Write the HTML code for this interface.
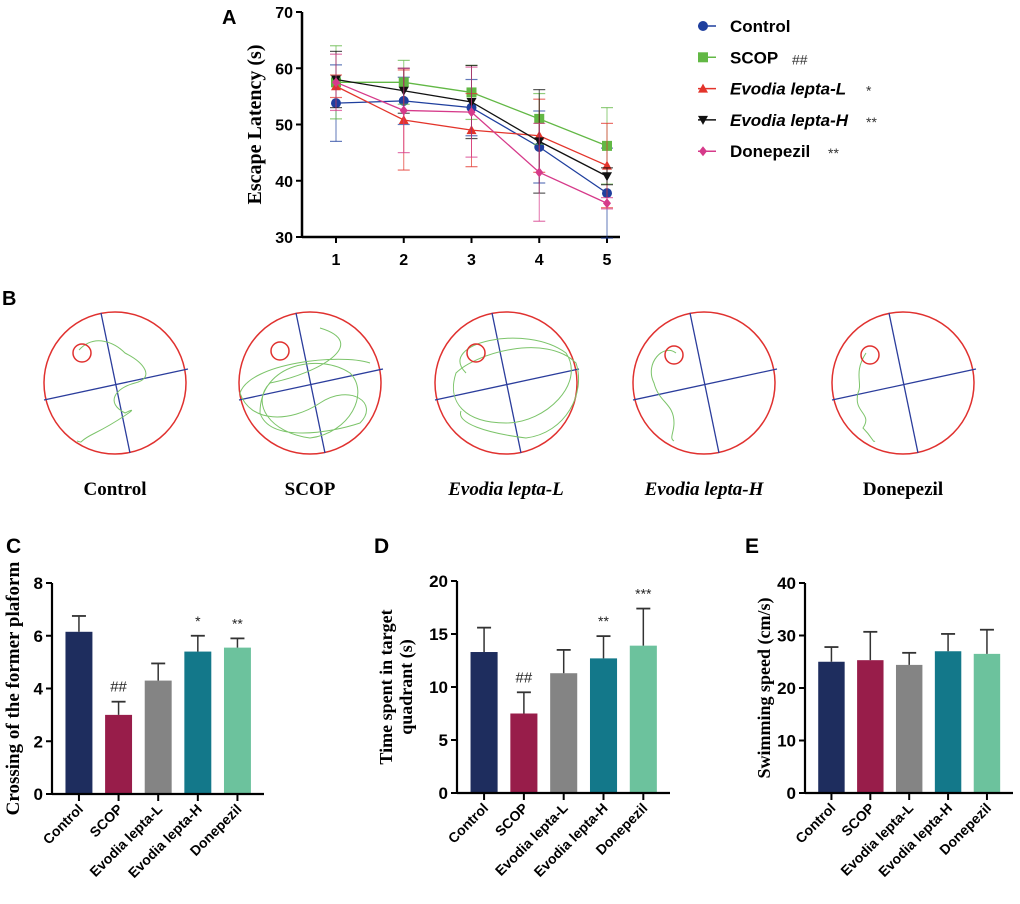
<!DOCTYPE html>
<html><head><meta charset="utf-8"><style>
body{margin:0;background:#fff;}
svg{display:block;font-family:"Liberation Sans",sans-serif;}
.serif{font-family:"Liberation Serif",serif;}
</style></head><body>
<svg id="fig" width="1020" height="904" viewBox="0 0 1020 904" xmlns="http://www.w3.org/2000/svg">
<g id="panelA"></g>
<g id="panelB"></g>
<g id="panelC"></g>
<g id="panelD"></g>
<g id="panelE"></g>
</svg>
<script>
const days = [1,2,3,4,5];
const yTicksA = [30,40,50,60,70];
const seriesNames = ["Control","SCOP","Evodia lepta-L","Evodia lepta-H","Donepezil"];
const controlA = [53.8,54.2,53.0,46.0,37.8];
const scopA = [57.5,57.5,55.7,51.0,46.2];
const lowA = [56.8,50.8,49.0,48.0,42.7];
const highA = [58.0,56.0,54.0,47.0,40.8];
const donepA = [57.5,52.5,52.2,41.5,36.0];
const controlErr = [6.8,4.2,5.0,6.4,8.0];
const scopErr = [6.5,3.9,4.8,4.5,6.8];
const lowErr = [2.0,8.9,6.5,6.5,7.5];
const highErr = [5.0,4.0,6.5,9.2,1.5];
const donepErr = [5.0,7.5,8.0,8.7,1.0];
const groups = ["Control","SCOP","Evodia lepta-L","Evodia lepta-H","Donepezil"];
const crossVals = [6.15,3.0,4.3,5.4,5.55];
const crossErr = [0.6,0.5,0.65,0.6,0.35];
const crossMarks = ["","##","","*","**"];
const crossTicks = [0,2,4,6,8];
const timeVals = [13.3,7.5,11.3,12.7,13.9];
const timeErr = [2.3,2.0,2.2,2.1,3.5];
const timeMarks = ["","##","","**","***"];
const timeTicks = [0,5,10,15,20];
const speedVals = [25.0,25.3,24.4,27.0,26.5];
const speedErr = [2.8,5.4,2.3,3.3,4.6];
const speedMarks = ["","","","",""];
const speedTicks = [0,10,20,30,40];

const NS="http://www.w3.org/2000/svg";
function mk(parent,tag,attrs,text){const e=document.createElementNS(NS,tag);for(const k in attrs)e.setAttribute(k,attrs[k]);if(text!==undefined)e.textContent=text;parent.appendChild(e);return e;}

/* Panel A */
const A=document.getElementById('panelA');
const ax0=302, ax1=620, ay0=237, ay1=12;
const xA=d=>336+(d-1)*(607-336)/4;
const yA=v=>ay0-(v-30)*(ay0-ay1)/40;
let t=mk(A,'text',{x:222,y:24,'font-size':20,'font-weight':'bold'},'A');

let l=mk(A,'line',{x1:ax0,y1:ay1,x2:ax0,y2:ay0,stroke:'#000','stroke-width':2.5});

l=mk(A,'line',{x1:ax0,y1:ay0,x2:ax1,y2:ay0,stroke:'#000','stroke-width':2.5});

yTicksA.forEach(v=>{mk(A,'line',{x1:ax0-6,y1:yA(v),x2:ax0,y2:yA(v),stroke:'#000','stroke-width':2});
 const tt=mk(A,'text',{x:ax0-9,y:yA(v)+6,'font-size':16,'font-weight':'bold','text-anchor':'end'},v);
 });
days.forEach(d=>{mk(A,'line',{x1:xA(d),y1:ay0,x2:xA(d),y2:ay0+6,stroke:'#000','stroke-width':2});
 const tt=mk(A,'text',{x:xA(d),y:ay0+28,'font-size':16,'font-weight':'bold','text-anchor':'middle'},d);
 });
t=mk(A,'text',{x:0,y:0,'font-size':20,'font-weight':'bold','text-anchor':'middle',class:'serif',transform:`translate(261,${(ay0+ay1)/2}) rotate(-90)`},'Escape Latency (s)');

const seriesVals=[controlA,scopA,lowA,highA,donepA];
const seriesErr=[controlErr,scopErr,lowErr,highErr,donepErr];
const colors=['#1f3f9e','#62b845','#e3342b','#111111','#d63a8a'];
const shapes=['circle','square','tri','itri','diamond'];
function marker(g,shape,x,y,c,s){
 if(shape==='circle')return mk(g,'circle',{cx:x,cy:y,r:s,fill:c});
 if(shape==='square')return mk(g,'rect',{x:x-s,y:y-s,width:2*s,height:2*s,fill:c});
 if(shape==='tri')return mk(g,'polygon',{points:`${x},${y-s} ${x-s},${y+s*0.8} ${x+s},${y+s*0.8}`,fill:c});
 if(shape==='itri')return mk(g,'polygon',{points:`${x},${y+s} ${x-s},${y-s*0.8} ${x+s},${y-s*0.8}`,fill:c});
 return mk(g,'polygon',{points:`${x},${y-s} ${x+s*0.8},${y} ${x},${y+s} ${x-s*0.8},${y}`,fill:c});
}
seriesVals.forEach((vals,i)=>{
 const g=mk(A,'g',{});
 
 
 vals.forEach((v,j)=>{const x=xA(days[j]);
  mk(g,'line',{x1:x,y1:yA(v-seriesErr[i][j]),x2:x,y2:yA(v+seriesErr[i][j]),stroke:colors[i],'stroke-width':1,opacity:0.7});
  mk(g,'line',{x1:x-6,y1:yA(v+seriesErr[i][j]),x2:x+6,y2:yA(v+seriesErr[i][j]),stroke:colors[i],'stroke-width':1.2,opacity:0.7});
  mk(g,'line',{x1:x-6,y1:yA(v-seriesErr[i][j]),x2:x+6,y2:yA(v-seriesErr[i][j]),stroke:colors[i],'stroke-width':1.2,opacity:0.7});});
 mk(g,'polyline',{points:vals.map((v,j)=>xA(days[j])+','+yA(v)).join(' '),fill:'none',stroke:colors[i],'stroke-width':1.3});
 vals.forEach((v,j)=>{const m=marker(g,shapes[i],xA(days[j]),yA(v),colors[i],5);
  });
});
const legSig=['','##','*','**','**'];
seriesNames.forEach((n,i)=>{const y=26+i*31.3;
 const g=mk(A,'g',{});
 mk(g,'line',{x1:698,y1:y,x2:716,y2:y,stroke:colors[i],'stroke-width':1.5});
 marker(g,shapes[i],703,y,colors[i],5);
 const it=i===2||i===3;
 mk(g,'text',{x:730,y:y+6,'font-size':17,'font-weight':'bold','font-style':it?'italic':'normal'},n);
 mk(g,'text',{x:[0,792,866,866,828][i],y:y+7,'font-size':14,fill:'#333'},legSig[i]);
});

/* Panel B */
const B=document.getElementById('panelB');
t=mk(B,'text',{x:2,y:305,'font-size':20,'font-weight':'bold'},'B');

const mazeX=[115,310,506,704,903];
const mazeLabels=["Control","SCOP","Evodia lepta-L","Evodia lepta-H","Donepezil"];
const plat=[[-33,-30],[-30,-32],[-30,-30],[-30,-28],[-33,-28]];
const paths=[
 "M-36,-33 C-20,-50 0,-40 10,-30 C30,-20 40,-5 20,0 C0,5 -10,20 10,30 C30,20 0,40 -20,50 C-40,60 -30,60 -38,58",
 "M10,-55 C60,-40 10,-10 -40,0 C-60,20 -40,50 0,55 C40,50 60,10 40,-10 C10,-30 -50,-20 -50,30 C-40,60 20,50 50,40 C70,20 40,0 10,20 C-20,40 -60,40 -70,10 C-60,-20 30,-30 60,-20",
 "M-40,-10 C-70,-40 20,-60 60,-30 C80,0 40,40 0,40 C-40,40 -60,20 -50,-10 C-30,-30 40,-50 70,-20 C80,10 60,50 20,55 C-20,50 -50,40 -45,28",
 "M-28,-30 C-40,-40 -60,-20 -50,0 C-45,20 -30,20 -30,40 C-30,50 -35,55 -30,58",
 "M-37,-30 C-50,-10 -40,0 -45,10 C-50,30 -30,30 -40,45 C-30,55 -30,60 -28,58"
];
mazeX.forEach((cx,i)=>{const cy=383;
 const g=mk(B,'g',{});
 mk(g,'circle',{cx,cy,r:71,fill:'none',stroke:'#e0312f','stroke-width':1.5});
 mk(g,'line',{x1:cx-71,y1:cy+17,x2:cx+73,y2:cy-14,stroke:'#2b3d9c','stroke-width':1.3});
 mk(g,'line',{x1:cx-14,y1:cy-70,x2:cx+15,y2:cy+70,stroke:'#2b3d9c','stroke-width':1.3});
 mk(g,'path',{d:paths[i],transform:`translate(${cx},${cy})`,fill:'none',stroke:'#7cc46a','stroke-width':1});
 mk(g,'circle',{cx:cx+plat[i][0],cy:cy+plat[i][1],r:9,fill:'none',stroke:'#e0312f','stroke-width':1.5});
 const tt=mk(B,'text',{x:cx,y:495,'font-size':19,'font-weight':'bold','text-anchor':'middle',class:'serif','font-style':(i===2||i===3)?'italic':'normal'},mazeLabels[i]);
 
});

/* Bar panels */
const barColors=['#1e2d5e','#981d4a','#848484','#13788a','#6cc29d'];
function barPanel(id,label,lx,axX,axEnd,yTop,yBot,ticks,vals,errs,marks,titleSize,titleX,titleLines){
 const P=document.getElementById(id);
 const max=ticks[ticks.length-1];
 const y=v=>yBot-v*(yBot-yTop)/max;
 const step=(axEnd-axX)/5.35;
 const cx=i=>axX+step*0.68+i*step;
 const bw=step*0.68;
 let tt=mk(P,'text',{x:lx,y:553,'font-size':21,'font-weight':'bold'},label);
 
 vals.forEach((v,i)=>{
  const r=mk(P,'rect',{x:cx(i)-bw/2,y:y(v),width:bw,height:yBot-y(v),fill:barColors[i]});
  
  mk(P,'line',{x1:cx(i),y1:y(v),x2:cx(i),y2:y(v+errs[i]),stroke:'#333','stroke-width':1.5});
  mk(P,'line',{x1:cx(i)-7,y1:y(v+errs[i]),x2:cx(i)+7,y2:y(v+errs[i]),stroke:'#333','stroke-width':1.8});
  if(marks[i]){const m=mk(P,'text',{x:cx(i),y:y(v+errs[i])-10,'font-size':marks[i][0]==='#'?15:14,'text-anchor':'middle',fill:'#222'},marks[i]);
   }
  mk(P,'line',{x1:cx(i),y1:yBot,x2:cx(i),y2:yBot+7,stroke:'#000','stroke-width':2});
  const xl=mk(P,'text',{x:0,y:0,'font-size':14,'font-weight':'bold','text-anchor':'end',transform:`translate(${cx(i)+5},${yBot+16}) rotate(-45)`},groups[i]);
  
 });
 let a=mk(P,'line',{x1:axX,y1:yTop,x2:axX,y2:yBot,stroke:'#000','stroke-width':2.2});
 
 a=mk(P,'line',{x1:axX,y1:yBot,x2:axEnd,y2:yBot,stroke:'#000','stroke-width':2.2});
 
 ticks.forEach(v=>{mk(P,'line',{x1:axX-6,y1:y(v),x2:axX,y2:y(v),stroke:'#000','stroke-width':2});
  const q=mk(P,'text',{x:axX-9,y:y(v)+6,'font-size':17,'font-weight':'bold','text-anchor':'end'},v);
  });
 const tg=mk(P,'text',{x:0,y:0,'font-size':titleSize,'font-weight':'bold','text-anchor':'middle',class:'serif',transform:`translate(${titleX},${(yTop+yBot)/2}) rotate(-90)`});
 
 titleLines.forEach((s,k)=>mk(tg,'tspan',{x:0,dy:k?20:0},s));
}
barPanel('panelC','C',6,52,264,583,794,crossTicks,crossVals,crossErr,crossMarks,19,19,['Crossing of the former plaform']);
barPanel('panelD','D',374,457,670,581,793,timeTicks,timeVals,timeErr,timeMarks,18,392,['Time spent in target','quadrant (s)']);
barPanel('panelE','E',745,805,1013,583,793,speedTicks,speedVals,speedErr,speedMarks,18,770,['Swimming speed (cm/s)']);
</script>
</body></html>
